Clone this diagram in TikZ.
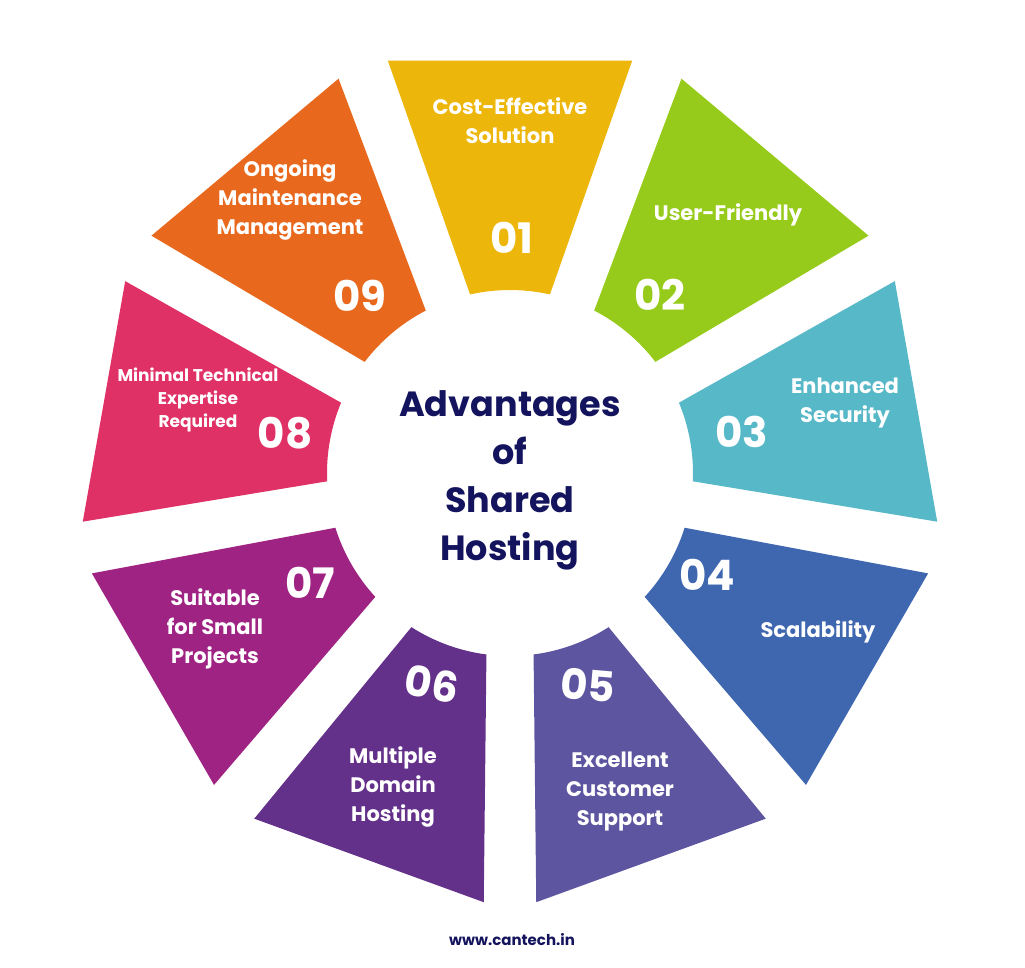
\documentclass[tikz,border=0pt]{standalone}
\usepackage{fontspec}
\usetikzlibrary{calc}
\setmainfont{Poppins}
\definecolor{c1}{HTML}{EDB60A}
\definecolor{c2}{HTML}{97CB1B}
\definecolor{c3}{HTML}{57B8C8}
\definecolor{c4}{HTML}{3E67AF}
\definecolor{c5}{HTML}{5D559F}
\definecolor{c6}{HTML}{63308A}
\definecolor{c7}{HTML}{9E2383}
\definecolor{c8}{HTML}{E03167}
\definecolor{c9}{HTML}{E8691E}
\definecolor{navy}{HTML}{14145E}
\begin{document}
\begin{tikzpicture}[x=1pt,y=-1pt,
  lbl/.style={text=white,font=\fontsize{21}{29}\selectfont\bfseries,align=center,inner sep=1pt},
  small/.style={text=white,font=\fontsize{17}{23}\selectfont\bfseries,align=center,inner sep=1pt},
  num/.style={text=white,font=\fontsize{42}{42}\selectfont\bfseries,inner sep=0pt}]
\useasboundingbox (0,0) rectangle (1025,967);
\coordinate (c) at (510,473);
\def\Ro{430}\def\ri{183}\def\bo{16.5}\def\bi{12.6}
\foreach \k in {1,...,9}{
  \pgfmathsetmacro{\ph}{40*\k-130}
  \fill[c\k] ($(c)+(\ph-\bo:\Ro)$) -- ($(c)+(\ph+\bo:\Ro)$) -- ($(c)+(\ph+\bi:\ri)$)
    arc[start angle=\ph+\bi, end angle=\ph-\bi, radius=\ri] -- cycle;
}
\node[lbl] (t1) at (510,121) {Cost-Effective\\Solution};
\node[num] (n1) at (512,238) {01};
\node[lbl] (t2) at (728,215) {User-Friendly};
\node[num] (n2) at (660,295) {02};
\node[lbl] (t3) at (845,403) {Enhanced\\Security};
\node[num] (n3) at (742,432) {03};
\node[num] (n4) at (707,575) {04};
\node[lbl] (t4) at (818,632) {Scalability};
\node[num,rotate=-5] (n5) at (588,685) {05};
\node[lbl] (t5) at (620,792) {Excellent\\Customer\\Support};
\node[num,rotate=-10] (n6) at (432,684) {06};
\node[lbl] (t6) at (393,787) {Multiple\\Domain\\Hosting};
\node[num] (n7) at (310,583) {07};
\node[lbl] (t7) at (215,629) {Suitable\\for Small\\Projects};
\node[small] (t8) at (198,400) {Minimal Technical\\Expertise\\Required};
\node[num] (n8) at (285,433) {08};
\node[lbl] (t9) at (290,200) {Ongoing\\Maintenance\\Management};
\node[num] (n9) at (360,296) {09};
\node[text=navy,font=\fontsize{35}{48}\selectfont\bfseries,align=center] (title) at (510,480) {Advantages\\of\\Shared\\Hosting};
\node[text=navy,font=\fontsize{15}{15}\selectfont\bfseries] (web) at (512,940) {www.cantech.in};
\end{tikzpicture}
\end{document}
